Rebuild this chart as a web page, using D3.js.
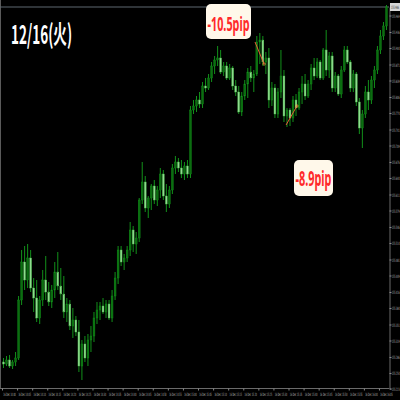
<!DOCTYPE html>
<html><head><meta charset="utf-8">
<script src="https://cdn.jsdelivr.net/npm/d3@7"></script>
<style>html,body{margin:0;padding:0;background:#000;overflow:hidden}</style>
</head><body>
<svg id="c" width="400" height="400"></svg>
<script>
const opens = [155.276,155.272,155.280,155.268,155.276,155.284,155.400,155.476,155.440,155.484,
155.424,155.404,155.364,155.400,155.440,155.416,155.396,155.420,155.456,155.428,
155.412,155.376,155.392,155.348,155.360,155.336,155.268,155.312,155.284,155.320,
155.328,155.364,155.380,155.388,155.376,155.392,155.364,155.408,155.444,155.500,
155.476,155.484,155.500,155.540,155.512,155.524,155.600,155.636,155.584,155.604,
155.628,155.600,155.620,155.652,155.608,155.592,155.620,155.664,155.676,155.664,
155.652,155.668,155.652,155.780,155.788,155.800,155.792,155.828,155.824,155.844,
155.868,155.880,155.884,155.856,155.868,155.844,155.864,155.828,155.816,155.776,
155.808,155.832,155.856,155.844,155.852,155.916,155.920,155.876,155.884,155.800,
155.824,155.772,155.816,155.848,155.768,155.780,155.764,155.800,155.784,155.816,
155.832,155.808,155.832,155.864,155.848,155.876,155.844,155.900,155.860,155.888,
155.824,155.848,155.812,155.860,155.900,155.876,155.824,155.852,155.796,155.744,
155.772,155.816,155.800,155.840,155.860,155.900,155.928,155.948];
const highs = [155.284,155.288,155.290,155.280,155.296,155.408,155.500,155.508,155.512,155.500,
155.444,155.440,155.408,155.460,155.488,155.436,155.430,155.476,155.496,155.464,
155.448,155.404,155.400,155.384,155.368,155.360,155.320,155.328,155.332,155.348,
155.376,155.396,155.396,155.404,155.400,155.400,155.420,155.456,155.508,155.508,
155.492,155.508,155.556,155.548,155.536,155.604,155.676,155.648,155.608,155.632,
155.640,155.628,155.664,155.660,155.632,155.628,155.672,155.688,155.684,155.680,
155.676,155.680,155.788,155.800,155.808,155.816,155.836,155.844,155.852,155.876,
155.888,155.908,155.900,155.876,155.876,155.872,155.868,155.840,155.828,155.816,
155.840,155.864,155.868,155.860,155.928,155.934,155.928,155.896,155.904,155.836,
155.832,155.824,155.900,155.860,155.784,155.784,155.808,155.812,155.824,155.848,
155.852,155.840,155.872,155.884,155.884,155.880,155.904,155.940,155.896,155.896,
155.856,155.852,155.868,155.908,155.908,155.880,155.860,155.856,155.804,155.780,
155.828,155.840,155.848,155.868,155.908,155.940,155.956,155.990];
const lows = [155.264,155.268,155.264,155.262,155.268,155.280,155.390,155.420,155.424,155.416,
155.376,155.356,155.352,155.388,155.400,155.388,155.384,155.404,155.420,155.400,
155.364,155.356,155.340,155.324,155.328,155.256,155.240,155.276,155.268,155.296,
155.316,155.352,155.360,155.372,155.364,155.360,155.356,155.400,155.432,155.468,
155.460,155.476,155.488,155.496,155.492,155.516,155.592,155.576,155.564,155.580,
155.592,155.588,155.604,155.600,155.576,155.584,155.612,155.652,155.656,155.644,
155.640,155.644,155.644,155.772,155.776,155.784,155.784,155.816,155.820,155.836,
155.852,155.868,155.852,155.848,155.840,155.840,155.820,155.808,155.772,155.768,
155.800,155.804,155.836,155.816,155.848,155.872,155.868,155.852,155.784,155.788,
155.764,155.764,155.804,155.756,155.746,155.748,155.756,155.768,155.780,155.792,
155.800,155.804,155.820,155.840,155.844,155.840,155.840,155.848,155.844,155.816,
155.816,155.808,155.804,155.856,155.872,155.816,155.816,155.788,155.732,155.704,
155.764,155.780,155.792,155.824,155.852,155.892,155.920,155.940];
const closes = [155.272,155.280,155.268,155.276,155.284,155.400,155.476,155.440,155.484,155.424,
155.404,155.364,155.400,155.440,155.416,155.396,155.420,155.456,155.428,155.412,
155.376,155.392,155.348,155.360,155.336,155.268,155.312,155.284,155.320,155.328,
155.364,155.380,155.388,155.376,155.392,155.364,155.408,155.444,155.500,155.476,
155.484,155.500,155.540,155.512,155.524,155.600,155.636,155.584,155.604,155.628,
155.600,155.620,155.652,155.608,155.592,155.620,155.664,155.676,155.664,155.652,
155.668,155.652,155.780,155.788,155.800,155.792,155.828,155.824,155.844,155.868,
155.880,155.884,155.856,155.868,155.844,155.864,155.828,155.816,155.776,155.808,
155.832,155.856,155.844,155.852,155.916,155.920,155.876,155.884,155.800,155.824,
155.772,155.816,155.848,155.768,155.780,155.764,155.800,155.784,155.816,155.832,
155.808,155.832,155.864,155.848,155.876,155.844,155.900,155.860,155.888,155.824,
155.848,155.812,155.860,155.900,155.876,155.824,155.852,155.796,155.744,155.772,
155.816,155.800,155.840,155.860,155.900,155.928,155.948,155.986];
const timeLabels = ["16 Dec 14:00","16 Dec 14:05","16 Dec 14:10","16 Dec 14:15","16 Dec 14:20","16 Dec 14:25",
"16 Dec 14:30","16 Dec 14:35","16 Dec 14:40","16 Dec 14:45","16 Dec 14:50","16 Dec 14:55","16 Dec 15:00",
"16 Dec 15:05","16 Dec 15:10","16 Dec 15:15","16 Dec 15:20","16 Dec 15:25","16 Dec 15:30","16 Dec 15:35",
"16 Dec 15:40","16 Dec 15:45","16 Dec 15:50","16 Dec 15:55","16 Dec 16:00","16 Dec 16:05"];
const priceTicks = [155.969,155.936,155.904,155.871,155.839,155.806,155.774,155.741,155.709,155.676,155.644,155.611,
155.579,155.546,155.514,155.481,155.449,155.416,155.384,155.351,155.319,155.286,155.254,155.223];
const title = "12/16(火)";
const noteTexts = ["-10.5pip","-8.9pip"];
const noteFromIdx = [83.4, 93.7];
const noteFromPrice = [155.916, 155.750];
const noteToIdx = [86.4, 97.3];
const noteToPrice = [155.872, 155.788];

const svg = d3.select("#c");
svg.append("rect").attr("width",400).attr("height",400).attr("fill","#000");
const n = closes.length;
const x = d3.scaleLinear().domain([-0.5, n - 0.5]).range([2, 388]);
const y = d3.scaleLinear().domain([155.2226, 155.986]).range([388.7, 7]);
const step = x(1) - x(0);
const bw = step * 0.62;

const data = closes.map((c,i)=>({i, o:opens[i], h:highs[i], l:lows[i], c}));

// squeeze a text horizontally to a target width using a transform
function squeeze(sel, target, x0, y0, anchor){
  sel.each(function(){
    const t = d3.select(this);
    t.attr("x",0).attr("y",0).attr("text-anchor","start").attr("dy",null);
    const len = this.getComputedTextLength() || 1;
    const sx = target/len;
    const ax = anchor==="middle" ? x0 - target/2 : x0;
    t.attr("transform",`translate(${ax},${y0}) scale(${sx},1)`);
  });
}

// frame
svg.append("line").attr("x1",0.5).attr("x2",0.5).attr("y1",0).attr("y2",389).attr("stroke","#5a5a5a");

// bid line
svg.append("line").attr("x1",0).attr("x2",389).attr("y1",y(closes[n-1])).attr("y2",y(closes[n-1]))
  .attr("stroke","#5e6870").attr("stroke-width",1);

const g = svg.append("g");
g.selectAll("line.w").data(data).join("line").attr("class","w")
  .attr("x1",d=>x(d.i)).attr("x2",d=>x(d.i)).attr("y1",d=>y(d.h)).attr("y2",d=>y(d.l))
  .attr("stroke","#12901a").attr("stroke-width",1);
g.selectAll("rect.b").data(data).join("rect").attr("class","b")
  .attr("x",d=>x(d.i)-bw/2).attr("width",bw)
  .attr("y",d=>y(Math.max(d.o,d.c)))
  .attr("height",d=>Math.max(0.8, Math.abs(y(d.o)-y(d.c))))
  .attr("fill",d=>d.c>=d.o ? "#0b6e10" : "#8edc8e")
  .attr("stroke",d=>d.c>=d.o ? "#12901a" : "#4fb84f").attr("stroke-width",0.4);

// y axis
const ya = d3.axisRight(y).tickValues(priceTicks).tickSize(2).tickFormat(d3.format(".3f"));
const yg = svg.append("g").attr("transform","translate(389.5,0)").call(ya);
yg.select(".domain").attr("stroke","#6a6a6a");
yg.selectAll(".tick line").attr("stroke","#8a8a8a");
yg.selectAll(".tick text").attr("fill","#b8b8b8").attr("font-size",4.4)
  .attr("font-family","DejaVu Sans").call(squeeze, 8, 2.3, 1.5, "start");

// x axis
const xIdx = timeLabels.map((t,k)=>k*5);
const xa = d3.axisBottom(x).tickValues(xIdx).tickSize(2).tickFormat((d)=>timeLabels[d/5]);
const xg = svg.append("g").attr("transform","translate(0,388.5)").call(xa);
xg.select(".domain").attr("stroke","#6a6a6a").attr("d","M0,0H389");
xg.selectAll(".tick line").attr("stroke","#8a8a8a").attr("transform",`translate(${-step/2},0)`);
xg.selectAll(".tick text").attr("fill","#b8b8b8").attr("font-size",4.4).attr("font-family","DejaVu Sans")
  .call(squeeze, 12.5, -step/2+0.8, 7.2, "start");

// current price tag
const cy = y(closes[n-1]);
svg.append("rect").attr("x",390).attr("y",cy-4).attr("width",10).attr("height",8).attr("fill","#d6d6d6");
svg.append("text").attr("font-size",4.4).attr("fill","#222")
  .attr("font-family","DejaVu Sans").text(d3.format(".3f")(closes[n-1]))
  .call(squeeze, 8, 391, cy+1.6, "start");

// title
svg.append("text").attr("x",11).attr("y",43.5).attr("fill","#fff")
  .attr("font-family","'Noto Sans CJK JP'").attr("font-weight","bold").attr("font-size",26)
  .attr("textLength",61).attr("lengthAdjust","spacingAndGlyphs").text(title);

// annotation arrows
noteTexts.forEach((t,k)=>{
  const x1=x(noteFromIdx[k]), y1=y(noteFromPrice[k]), x2=x(noteToIdx[k]), y2=y(noteToPrice[k]);
  svg.append("line").attr("x1",x1).attr("y1",y1).attr("x2",x2).attr("y2",y2)
    .attr("stroke","#ff5a3a").attr("stroke-width",0.9);
  svg.append("circle").attr("cx",x2).attr("cy",y2).attr("r",1.2).attr("fill","none")
    .attr("stroke","#ffa040").attr("stroke-width",0.7);
});

// note boxes
const boxes = [{x:206,y:4,w:45,h:35,fs:19,by:30.5,tl:42},{x:294,y:160,w:39,h:36,fs:21,by:186,tl:36}];
boxes.forEach((b,k)=>{
  svg.append("rect").attr("x",b.x).attr("y",b.y).attr("width",b.w).attr("height",b.h)
    .attr("rx",5).attr("fill","#fff8ea");
  svg.append("text").attr("x",b.x+b.w/2).attr("y",b.by).attr("text-anchor","middle")
    .attr("fill","#ff2a2a").attr("font-family","'Noto Sans'").attr("font-weight","bold")
    .attr("font-size",b.fs).attr("textLength",b.tl).attr("lengthAdjust","spacingAndGlyphs")
    .text(noteTexts[k]);
});
</script>
</body></html>
